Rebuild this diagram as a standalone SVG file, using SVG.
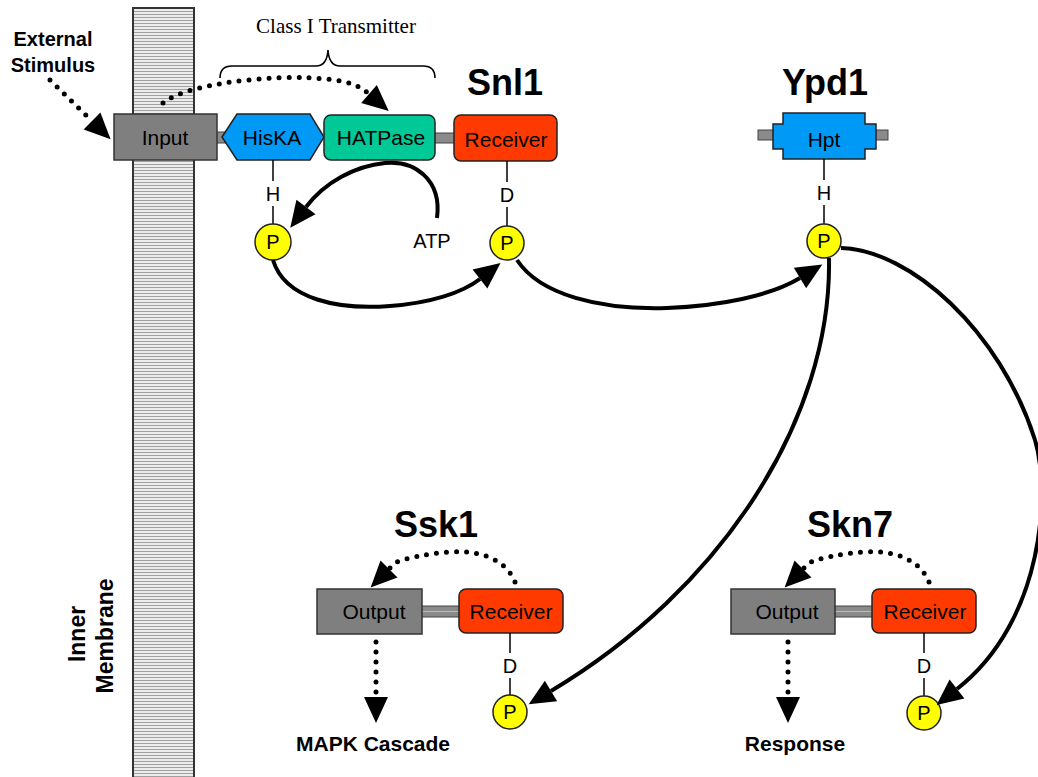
<svg xmlns="http://www.w3.org/2000/svg" width="1038" height="777" viewBox="0 0 1038 777">
<style>
text{font-family:"Liberation Sans",Arial,Helvetica,sans-serif;fill:#000}
.lbl{font-size:21px;text-anchor:middle}
.res{font-size:20px;text-anchor:middle}
.title{font-size:36px;font-weight:bold;text-anchor:middle}
.bold{font-size:20px;font-weight:bold;text-anchor:middle}
.gray{fill:#7f7f7f;stroke:#333;stroke-width:1.5}
.bar{fill:#8a8a8a;stroke:#444;stroke-width:1}
.recv{fill:#ff3a00;stroke:#222;stroke-width:1.5}
.blue{fill:#0099f5;stroke:#222;stroke-width:1.5}
.teal{fill:#00c896;stroke:#222;stroke-width:1.5}
.pc{fill:#ffff00;stroke:#222;stroke-width:1.5}
.stem{stroke:#000;stroke-width:1.5;fill:none}
.solid{fill:none;stroke:#000;stroke-width:4}
.dot{fill:none;stroke:#000;stroke-width:5;stroke-linecap:round;stroke-dasharray:0 10}
</style>
<defs>
<pattern id="stripes" patternUnits="userSpaceOnUse" width="10" height="3">
<rect width="10" height="3" fill="#ececec"/>
<rect y="2" width="10" height="1" fill="#a0a0a0"/>
</pattern>
<marker id="ah" markerUnits="userSpaceOnUse" markerWidth="27" markerHeight="24" viewBox="0 0 27 24" refX="0" refY="12" orient="auto" overflow="visible">
<path d="M0,0 L26,12 L0,24 z" fill="#000"/>
</marker>
</defs>
<rect width="1038" height="777" fill="#fff"/>

<g id="membrane">
<rect x="133" y="8" width="61" height="775" fill="url(#stripes)" stroke="#333" stroke-width="2"/>
<text transform="translate(85,634) rotate(-90)" font-size="23" font-weight="bold" text-anchor="middle">Inner</text>
<text transform="translate(113,636) rotate(-90)" font-size="23" font-weight="bold" text-anchor="middle">Membrane</text>
</g>

<g id="external-stimulus">
<text x="53" y="46" class="bold">External</text>
<text x="53" y="72" class="bold">Stimulus</text>
</g>

<g id="class1-brace">
<path d="M220,78 Q220,66 232,66 L316,66 Q327,66 328,50 Q329,66 340,66 L423,66 Q435,66 435,78" fill="none" stroke="#000" stroke-width="1.6"/>
<text x="336" y="33" font-size="21" text-anchor="middle" style="font-family:'Liberation Serif','Times New Roman',serif">Class I Transmitter</text>
</g>

<g id="snl1">
<rect class="bar" x="215" y="132" width="12" height="11"/>
<rect class="bar" x="433" y="133" width="23" height="10"/>
<rect id="input" class="gray" x="114" y="114" width="103" height="46"/>
<text x="165" y="145" class="lbl">Input</text>
<polygon id="hiska" class="blue" points="222,137 237,114 310,114 324,137 310,160 237,160"/>
<text x="272" y="145" class="lbl">HisKA</text>
<rect id="hatpase" class="teal" x="324" y="115" width="111" height="45" rx="7"/>
<text x="381" y="145" class="lbl">HATPase</text>
<rect id="snl1-receiver" class="recv" x="454" y="115" width="103" height="46" rx="7"/>
<text x="506" y="147" class="lbl">Receiver</text>
<text x="505" y="95" class="title">Snl1</text>
<line class="stem" x1="273" y1="160" x2="273" y2="181"/>
<text x="273" y="201" class="res">H</text>
<line class="stem" x1="273" y1="206" x2="273" y2="224"/>
<circle class="pc" cx="273" cy="242" r="18"/>
<text x="273" y="249" class="res">P</text>
<line class="stem" x1="507" y1="161" x2="507" y2="182"/>
<text x="507" y="202" class="res">D</text>
<line class="stem" x1="507" y1="207" x2="507" y2="226"/>
<circle class="pc" cx="507" cy="243" r="17"/>
<text x="507" y="250" class="res">P</text>
<text x="432" y="248" class="res">ATP</text>
</g>

<g id="ypd1">
<rect class="bar" x="758" y="130" width="16" height="10"/>
<rect class="bar" x="875" y="130" width="13" height="10"/>
<polygon class="blue" points="783,113 865,113 865,124 876,124 876,149 865,149 865,159 783,159 783,149 773,149 773,124 783,124"/>
<text x="824" y="147" class="lbl">Hpt</text>
<text x="825" y="95" class="title">Ypd1</text>
<line class="stem" x1="824" y1="159" x2="824" y2="180"/>
<text x="824" y="200" class="res">H</text>
<line class="stem" x1="824" y1="205" x2="824" y2="224"/>
<circle class="pc" cx="824" cy="241" r="17"/>
<text x="824" y="248" class="res">P</text>
</g>

<g id="ssk1">
<rect class="bar" x="421" y="606" width="39" height="11"/>
<line x1="421" y1="611.5" x2="460" y2="611.5" stroke="#bbb" stroke-width="1"/>
<rect class="gray" x="317" y="589" width="105" height="45"/>
<text x="374" y="619" class="lbl">Output</text>
<rect class="recv" x="459" y="589" width="104" height="44" rx="7"/>
<text x="511" y="619" class="lbl">Receiver</text>
<text x="436" y="537" class="title">Ssk1</text>
<line class="stem" x1="510" y1="633" x2="510" y2="653"/>
<text x="510" y="673" class="res">D</text>
<line class="stem" x1="510" y1="678" x2="510" y2="695"/>
<circle class="pc" cx="510" cy="712" r="17"/>
<text x="510" y="719" class="res">P</text>
<text x="373" y="751" class="bold" style="font-size:21px">MAPK Cascade</text>
</g>

<g id="skn7">
<rect class="bar" x="835" y="606" width="39" height="11"/>
<line x1="835" y1="611.5" x2="874" y2="611.5" stroke="#bbb" stroke-width="1"/>
<rect class="gray" x="731" y="589" width="104" height="45"/>
<text x="787" y="619" class="lbl">Output</text>
<rect class="recv" x="872" y="589" width="104" height="44" rx="7"/>
<text x="925" y="619" class="lbl">Receiver</text>
<text x="850" y="537" class="title">Skn7</text>
<line class="stem" x1="924" y1="633" x2="924" y2="653"/>
<text x="924" y="673" class="res">D</text>
<line class="stem" x1="924" y1="678" x2="924" y2="696"/>
<circle class="pc" cx="924" cy="713" r="17"/>
<text x="924" y="720" class="res">P</text>
<text x="795" y="751" class="bold" style="font-size:21px">Response</text>
</g>

<g id="connectors">
<path class="dot" d="M50,80 L92,121" marker-end="url(#ah)"/>
<path class="dot" d="M163,103 C190,80 310,70 352,84 L362,88 L369,94" marker-end="url(#ah)"/>
<path class="solid" d="M437,218 C442,180 415,160 385,163 C355,166 325,182 306,207" marker-end="url(#ah)"/>
<path class="solid" d="M273,260 C285,300 340,310 390,306 C430,303 462,293 480,279" marker-end="url(#ah)"/>
<path class="solid" d="M517,260 C540,295 600,310 667,308 C720,306 770,296 800,278" marker-end="url(#ah)"/>
<path class="solid" d="M829,258 C832,420 720,590 551,691" marker-end="url(#ah)"/>
<path class="solid" d="M841,248 C910,250 1000,330 1035,440 C1050,490 1045,620 957,689" marker-end="url(#ah)"/>
<path class="dot" d="M515,582 C505,558 478,550 450,552 C425,554 405,558 395,563 L389,569" marker-end="url(#ah)"/>
<path class="dot" d="M929,582 C919,558 892,550 864,552 C839,554 819,558 809,563 L803,569" marker-end="url(#ah)"/>
<path class="dot" d="M376,642 L376,697" marker-end="url(#ah)"/>
<path class="dot" d="M788,642 L788,697" marker-end="url(#ah)"/>
</g>
</svg>
